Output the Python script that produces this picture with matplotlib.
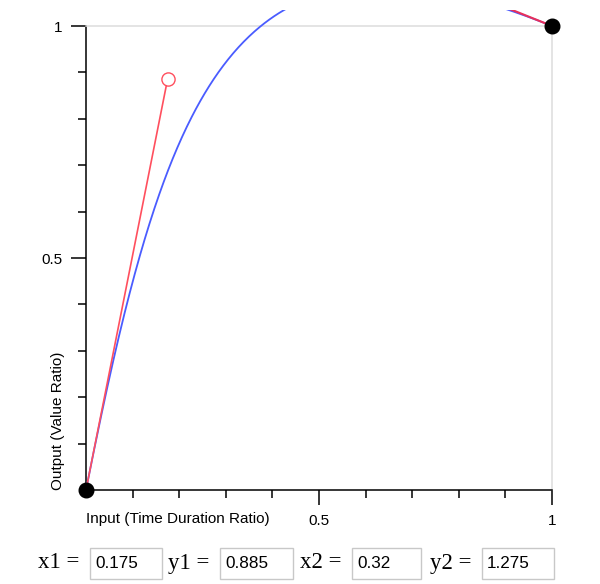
import numpy as np
import matplotlib
matplotlib.use("Agg")
import matplotlib.pyplot as plt
from matplotlib.patches import Rectangle

# cubic bezier control points (from the input boxes)
x1, y1 = 0.175, 0.885
x2, y2 = 0.32, 1.275
field_names = ["x1", "y1", "x2", "y2"]
field_values = ["0.175", "0.885", "0.32", "1.275"]

W, H = 600, 584
fig = plt.figure(figsize=(W / 100, H / 100), dpi=100)
plt.rcParams['font.family'] = ['Liberation Sans', 'DejaVu Sans']

# axes: x 0 -> px 86, 1 -> px 552 ; y 0 -> px 490, 1 -> px 26
ax = fig.add_axes([86 / W, (H - 490) / H, (552 - 86) / W, (490 - 26) / H])
ax.set_xlim(0, 1)
ax.set_ylim(0, 1)

# drawing area ends ~10px above the top of the figure
top = (490 - 10) / 464
clip = Rectangle((-1, -1), 3, 1 + top, transform=ax.transData)

# bezier curve
t = np.linspace(0, 1, 400)
bx = 3 * (1 - t) ** 2 * t * x1 + 3 * (1 - t) * t ** 2 * x2 + t ** 3
by = 3 * (1 - t) ** 2 * t * y1 + 3 * (1 - t) * t ** 2 * y2 + t ** 3
curve, = ax.plot(bx, by, color="#4a5cff", lw=1.3, zorder=3)
curve.set_clip_path(clip)

# handles
ax.plot([0, x1], [0, y1], color="#ff4f5e", lw=1.2, clip_on=False, zorder=4)
h2, = ax.plot([1, x2], [1, y2], color="#e8305a", lw=1.5, zorder=4)
h2.set_clip_path(clip)
ax.plot([x1], [y1], "o", ms=9.5, mfc="white", mec="#ff4f5e", mew=1.0,
        clip_on=False, zorder=5)
ax.plot([0, 1], [0, 1], "o", ms=10.5, color="black", ls="none",
        clip_on=False, zorder=6)

# spines
for s in ["left", "bottom"]:
    ax.spines[s].set_color("black")
    ax.spines[s].set_linewidth(1.1)
for s in ["top", "right"]:
    ax.spines[s].set_color("#dcdcdc")
    ax.spines[s].set_linewidth(1.1)

ax.set_xticks([0.5, 1])
ax.set_xticklabels(["0.5", "1"])
ax.set_yticks([0.5, 1])
ax.set_yticklabels(["0.5", "1"])
ax.set_xticks(np.arange(0.1, 1.0, 0.1), minor=True)
ax.set_yticks(np.arange(0.1, 1.0, 0.1), minor=True)
ax.tick_params(which="major", length=11, width=1.1, color="black",
               labelsize=11, pad=6)
ax.tick_params(which="minor", length=5.8, width=1.1, color="black")

fig.text(86 / W, 1 - 519 / H, "Input (Time Duration Ratio)", fontsize=11,
         ha="left", va="center")
fig.text(58 / W, 1 - 490 / H, "Output (Value Ratio)", fontsize=11,
         rotation=90, ha="center", va="bottom")

# input fields below the chart
label_x = [38, 168, 300, 430]
box_x = [90, 220, 352, 482]
box_w = [72, 73, 69, 72]
for name, val, lx, bxp, bw in zip(field_names, field_values, label_x, box_x, box_w):
    fig.text(lx / W, 1 - 563 / H, name + " =", fontsize=16.5,
             family=["Liberation Serif", "DejaVu Serif"], ha="left", va="center")
    fig.patches.append(Rectangle((bxp / W, 1 - 579 / H), bw / W, 31 / H,
                                 transform=fig.transFigure, fill=False,
                                 ec="#c8c8c8", lw=1.0))
    fig.text((bxp + 5) / W, 1 - 564 / H, val, fontsize=12.3,
             ha="left", va="center")

fig.savefig("out.png", dpi=100)
